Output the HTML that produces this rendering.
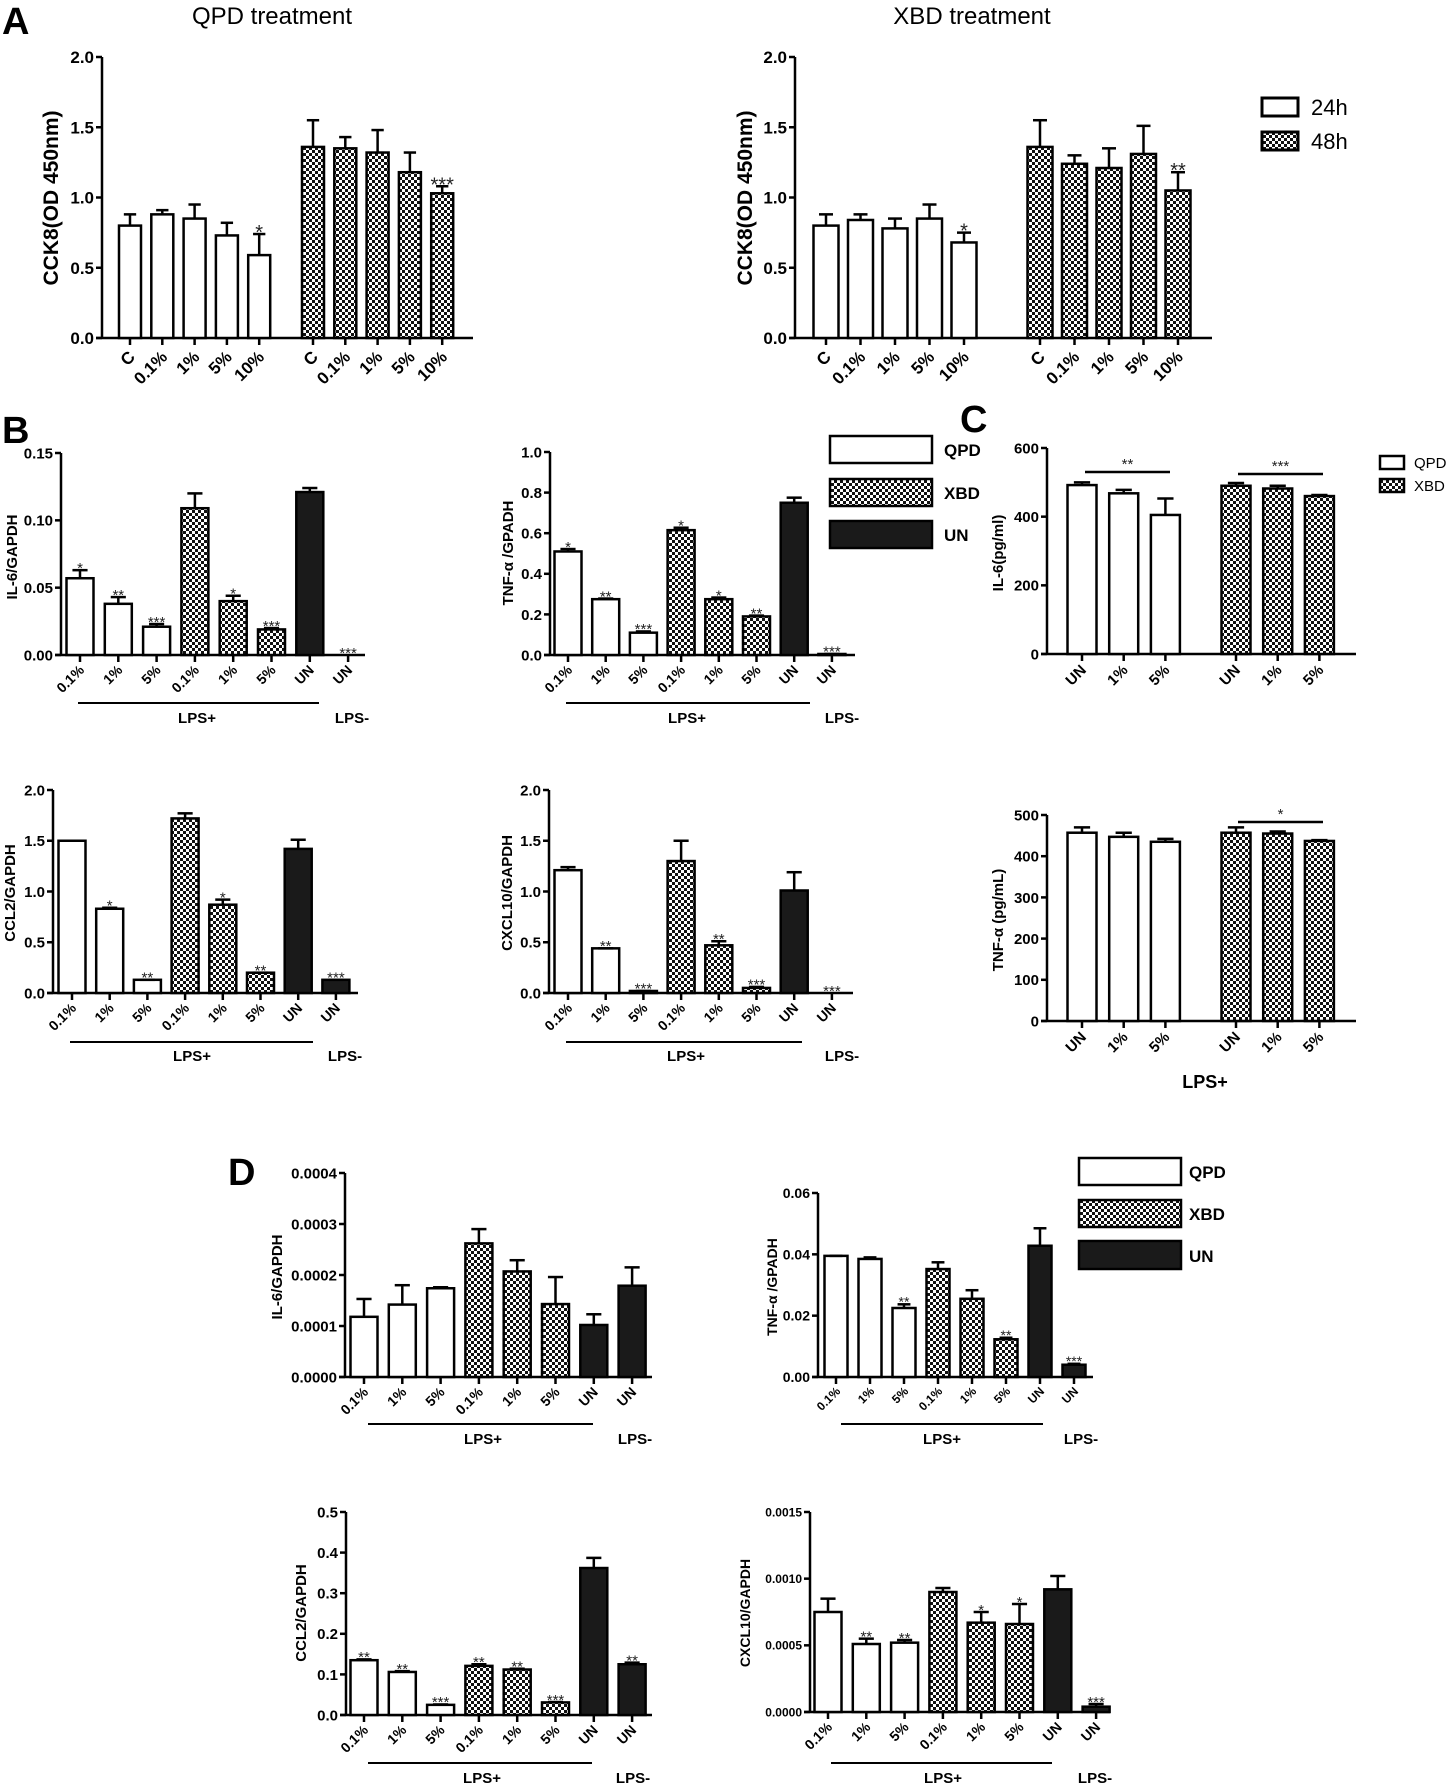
<!DOCTYPE html>
<html><head><meta charset="utf-8"><title>Figure</title>
<style>
html,body{margin:0;padding:0;background:#fff;}
svg{display:block;font-family:"Liberation Sans",sans-serif;}
</style></head>
<body>
<svg id="fig" width="1450" height="1787" viewBox="0 0 1450 1787" xmlns="http://www.w3.org/2000/svg">
<defs>
<pattern id="chk" width="6" height="6" patternUnits="userSpaceOnUse">
<rect width="6" height="6" fill="#fff"/><rect width="3" height="3" fill="#111"/><rect x="3" y="3" width="3" height="3" fill="#111"/>
</pattern>
</defs>
<text x="2" y="34" font-size="38" font-weight="bold">A</text>
<text x="2" y="443" font-size="38" font-weight="bold">B</text>
<text x="960" y="432" font-size="38" font-weight="bold">C</text>
<text x="228" y="1185" font-size="38" font-weight="bold">D</text>
<text x="272" y="24" font-size="24" text-anchor="middle">QPD treatment</text>
<text x="972" y="24" font-size="24" text-anchor="middle">XBD treatment</text>

<g>
<rect x="1262" y="98" width="36" height="18" fill="#fff" stroke="#000" stroke-width="3"/>
<text x="1311" y="115" font-size="22">24h</text>
<rect x="1262" y="132" width="36" height="18" fill="url(#chk)" stroke="#000" stroke-width="3"/>
<text x="1311" y="149" font-size="22">48h</text>
</g>
<g>
<rect x="830" y="436" width="102" height="27" fill="#fff" stroke="#000" stroke-width="2.5"/>
<text x="944" y="456" font-size="17" font-weight="bold">QPD</text>
<rect x="830" y="479" width="102" height="27" fill="url(#chk)" stroke="#000" stroke-width="2.5"/>
<text x="944" y="499" font-size="17" font-weight="bold">XBD</text>
<rect x="830" y="521" width="102" height="27" fill="#1a1a1a" stroke="#000" stroke-width="2.5"/>
<text x="944" y="541" font-size="17" font-weight="bold">UN</text>
</g>
<g>
<rect x="1380" y="456" width="24" height="13" fill="#fff" stroke="#000" stroke-width="2.5"/>
<text x="1414" y="468" font-size="15">QPD</text>
<rect x="1380" y="479" width="24" height="13" fill="url(#chk)" stroke="#000" stroke-width="2.5"/>
<text x="1414" y="491" font-size="15">XBD</text>
</g>
<g>
<rect x="1079" y="1158" width="102" height="27" fill="#fff" stroke="#000" stroke-width="2.5"/>
<text x="1189" y="1178" font-size="17" font-weight="bold">QPD</text>
<rect x="1079" y="1200" width="102" height="27" fill="url(#chk)" stroke="#000" stroke-width="2.5"/>
<text x="1189" y="1220" font-size="17" font-weight="bold">XBD</text>
<rect x="1079" y="1241" width="102" height="28" fill="#1a1a1a" stroke="#000" stroke-width="2.5"/>
<text x="1189" y="1262" font-size="17" font-weight="bold">UN</text>
</g>
</svg>
<script>
// ---------- data ----------
const catsA = ["C","0.1%","1%","5%","10%","C","0.1%","1%","5%","10%"];
const fillsA = ["w","w","w","w","w","c","c","c","c","c"];
const qpdCckVals = [0.80,0.88,0.85,0.73,0.59,1.36,1.35,1.32,1.18,1.03];
const qpdCckErrs = [0.08,0.03,0.10,0.09,0.15,0.19,0.08,0.16,0.14,0.05];
const qpdCckStars = ["","","","","*","","","","","***"];
const xbdCckVals = [0.80,0.84,0.78,0.85,0.68,1.36,1.24,1.21,1.31,1.05];
const xbdCckErrs = [0.08,0.04,0.07,0.10,0.07,0.19,0.06,0.14,0.20,0.13];
const xbdCckStars = ["","","","","*","","","","","**"];
const ticksA = [0,0.5,1.0,1.5,2.0];
const tickLabelsA = ["0.0","0.5","1.0","1.5","2.0"];

const catsBD = ["0.1%","1%","5%","0.1%","1%","5%","UN","UN"];
const fillsBD = ["w","w","w","c","c","c","k","k"];
const bIl6Vals = [0.057,0.038,0.021,0.109,0.040,0.019,0.121,0];
const bIl6Errs = [0.006,0.005,0.002,0.011,0.004,0.001,0.003,0];
const bIl6Stars = ["*","**","***","","*","***","","***"];
const bIl6Ticks = [0,0.05,0.10,0.15];
const bIl6TickLabels = ["0.00","0.05","0.10","0.15"];
const bTnfVals = [0.51,0.275,0.11,0.615,0.275,0.19,0.75,0.005];
const bTnfErrs = [0.012,0.003,0.006,0.012,0.008,0.004,0.025,0];
const bTnfStars = ["*","**","***","*","*","**","","***"];
const bTnfTicks = [0,0.2,0.4,0.6,0.8,1.0];
const bTnfTickLabels = ["0.0","0.2","0.4","0.6","0.8","1.0"];
const bCcl2Vals = [1.50,0.83,0.13,1.72,0.87,0.20,1.42,0.13];
const bCcl2Errs = [0,0.01,0,0.05,0.05,0,0.09,0];
const bCcl2Stars = ["","*","**","","*","**","","***"];
const bCxcl10Vals = [1.21,0.44,0.02,1.30,0.47,0.05,1.01,0];
const bCxcl10Errs = [0.03,0,0,0.20,0.04,0.01,0.18,0];
const bCxcl10Stars = ["","**","***","","**","***","","***"];
const ticks2 = [0,0.5,1.0,1.5,2.0];
const tickLabels2 = ["0.0","0.5","1.0","1.5","2.0"];

const catsC = ["UN","1%","5%","UN","1%","5%"];
const fillsC = ["w","w","w","c","c","c"];
const cIl6Vals = [492,468,405,490,482,460];
const cIl6Errs = [8,10,48,8,8,3];
const cIl6Ticks = [0,200,400,600];
const cTnfVals = [457,447,435,457,455,437];
const cTnfErrs = [13,10,7,13,5,2];
const cTnfTicks = [0,100,200,300,400,500];

const dIl6Vals = [0.000118,0.000142,0.000174,0.000262,0.000207,0.000143,0.000102,0.000179];
const dIl6Errs = [0.000035,0.000038,0.000002,0.000028,0.000022,0.000053,0.000021,0.000036];
const dIl6Stars = ["","","","","","","",""];
const dIl6Ticks = [0,0.0001,0.0002,0.0003,0.0004];
const dIl6TickLabels = ["0.0000","0.0001","0.0002","0.0003","0.0004"];
const dTnfVals = [0.0395,0.0385,0.0225,0.0352,0.0255,0.0123,0.0428,0.0040];
const dTnfErrs = [0,0.0005,0.0012,0.0022,0.0028,0.0005,0.0057,0.0003];
const dTnfStars = ["","","**","","","**","","***"];
const dTnfTicks = [0,0.02,0.04,0.06];
const dTnfTickLabels = ["0.00","0.02","0.04","0.06"];
const dCcl2Vals = [0.135,0.106,0.025,0.121,0.112,0.031,0.362,0.125];
const dCcl2Errs = [0.002,0.002,0.001,0.004,0.002,0.001,0.025,0.004];
const dCcl2Stars = ["**","**","***","**","**","***","","**"];
const dCcl2Ticks = [0,0.1,0.2,0.3,0.4,0.5];
const dCcl2TickLabels = ["0.0","0.1","0.2","0.3","0.4","0.5"];
const dCxcl10Vals = [0.00075,0.00051,0.00052,0.00090,0.00067,0.00066,0.00092,0.00004];
const dCxcl10Errs = [0.00010,0.00004,0.00002,0.00003,0.00008,0.00015,0.00010,0.00002];
const dCxcl10Stars = ["","**","**","","*","*","","***"];
const dCxcl10Ticks = [0,0.0005,0.0010,0.0015];
const dCxcl10TickLabels = ["0.0000","0.0005","0.0010","0.0015"];

// ---------- drawing ----------
const NS = "http://www.w3.org/2000/svg";
const svg = document.getElementById("fig");
function mk(tag, attrs, parent){
  const e = document.createElementNS(NS, tag);
  for (const k in attrs) e.setAttribute(k, attrs[k]);
  (parent || svg).appendChild(e);
  return e;
}
const FILL = {w:"#fff", c:"url(#chk)", k:"#1a1a1a"};

function drawChart(c){
  const g = mk("g", {});
  
  
  const ys = v => c.y0 - v / c.max * (c.y0 - c.yTop);
  const ya = mk("line", {x1:c.ax, y1:c.yTop, x2:c.ax, y2:c.y0, stroke:"#000", "stroke-width":2.5}, g);
  
  
  c.ticks.forEach((t, i) => {
    const y = ys(t);
    const tk = mk("line", {x1:c.ax-6, y1:y, x2:c.ax, y2:y, stroke:"#000", "stroke-width":2.5}, g);
    
    
    const tl = mk("text", {x:c.ax-8, y:y + c.tickFont*0.36, "font-size":c.tickFont, "font-weight":"bold", "text-anchor":"end"}, g);
    
    
    tl.textContent = c.tickLabels[i];
  });
  const xa = mk("line", {x1:c.ax-6, y1:c.y0, x2:c.xEnd, y2:c.y0, stroke:"#000", "stroke-width":2.5}, g);
  
  
  const yt = mk("text", {x:0, y:0, "font-size":c.titleFont, "font-weight":"bold", "text-anchor":"middle",
    transform:`translate(${c.titleX},${c.titleY}) rotate(-90)`}, g);
  
  
  yt.textContent = c.title;
  c.vals.forEach((v, i) => {
    const cx = c.centers[i];
    const top = ys(v);
    if (v > 0) {
      const r = mk("rect", {x:cx - c.bw/2, y:top, width:c.bw, height:c.y0 - top, fill:FILL[c.fills[i]], stroke:"#000", "stroke-width":2.5}, g);
      
      
      const et = ys(v + c.errs[i]);
      const el = mk("line", {x1:cx, y1:top, x2:cx, y2:et, stroke:"#000", "stroke-width":2.5}, g);
      
      
      const cap = mk("line", {x1:cx - c.bw*0.28, y1:et, x2:cx + c.bw*0.28, y2:et, stroke:"#000", "stroke-width":2.5}, g);
      
      
    }
    const xt = mk("line", {x1:cx, y1:c.y0, x2:cx, y2:c.y0 + 7, stroke:"#000", "stroke-width":2.5}, g);
    
    
    const lx = cx + c.labDx, ly = c.y0 + c.labDy;
    const xl = mk("text", {x:0, y:0, "font-size":c.catFont, "font-weight":"bold", "text-anchor":"end",
      transform:`translate(${lx},${ly}) rotate(-45)`}, g);
    
    
    xl.textContent = c.cats[i];
    const s = c.stars ? c.stars[i] : "";
    if (s) {
      const sy = ys(v + (v > 0 ? c.errs[i] : 0)) - 4;
      const st = mk("text", {x:cx, y:sy + c.starFont*0.45, "font-size":c.starFont, fill:"#222", "text-anchor":"middle"}, g);
      
      
      st.textContent = s;
    }
  });
  return g;
}
function seq(first, step, n){ const a=[]; for(let i=0;i<n;i++) a.push(first+step*i); return a; }
function lps(x1, x2, y, plusX, minusX, ty){
  const l = mk("line", {x1:x1, y1:y, x2:x2, y2:y, stroke:"#000", "stroke-width":2});
  
  
  const t1 = mk("text", {x:plusX, y:ty, "font-size":15, "font-weight":"bold", "text-anchor":"middle"});
  
  
  t1.textContent = "LPS+";
  if (minusX) {
    const t2 = mk("text", {x:minusX, y:ty, "font-size":15, "font-weight":"bold", "text-anchor":"middle"});
    
    
    t2.textContent = "LPS-";
  }
}
function sig(x1, x2, y, s){
  const l = mk("line", {x1:x1, y1:y, x2:x2, y2:y, stroke:"#000", "stroke-width":2.5});
  
  
  const t = mk("text", {x:(x1+x2)/2, y:y-3, "font-size":15, fill:"#222", "text-anchor":"middle"});
  
  
  t.textContent = s;
}

// Panel A
drawChart({name:"qpd-cck8-chart", ax:102, yTop:57, y0:338, xEnd:473, max:2.0, ticks:ticksA, tickLabels:tickLabelsA,
  centers: seq(130,32.3,5).concat(seq(313,32.3,5)), bw:22, fills:fillsA, cats:catsA,
  vals:qpdCckVals, errs:qpdCckErrs, stars:qpdCckStars, tickFont:17, catFont:17, starFont:20,
  title:"CCK8(OD 450nm)", titleX:58, titleY:198, titleFont:21, labDx:6, labDy:20});
drawChart({name:"xbd-cck8-chart", ax:795, yTop:57, y0:338, xEnd:1212, max:2.0, ticks:ticksA, tickLabels:tickLabelsA,
  centers: seq(826,34.5,5).concat(seq(1040,34.5,5)), bw:25, fills:fillsA, cats:catsA,
  vals:xbdCckVals, errs:xbdCckErrs, stars:xbdCckStars, tickFont:17, catFont:17, starFont:20,
  title:"CCK8(OD 450nm)", titleX:752, titleY:198, titleFont:21, labDx:6, labDy:20});

// Panel B
drawChart({name:"b-il6-chart", ax:61, yTop:453, y0:655, xEnd:365, max:0.15, ticks:bIl6Ticks, tickLabels:bIl6TickLabels,
  centers: seq(80,38.3,8), bw:27, fills:fillsBD, cats:catsBD, vals:bIl6Vals, errs:bIl6Errs, stars:bIl6Stars,
  tickFont:15, catFont:14, starFont:15, title:"IL-6/GAPDH", titleX:17, titleY:557, titleFont:15, labDx:5, labDy:16});
drawChart({name:"b-tnf-chart", ax:550, yTop:452, y0:655, xEnd:855, max:1.0, ticks:bTnfTicks, tickLabels:bTnfTickLabels,
  centers: seq(568,37.7,8), bw:27, fills:fillsBD, cats:catsBD, vals:bTnfVals, errs:bTnfErrs, stars:bTnfStars,
  tickFont:15, catFont:14, starFont:15, title:"TNF-α /GPADH", titleX:513, titleY:553, titleFont:15, labDx:5, labDy:16});
lps(78, 319, 703, 197, 352, 723);
lps(566, 810, 703, 687, 842, 723);
drawChart({name:"b-ccl2-chart", ax:53, yTop:790, y0:993, xEnd:358, max:2.0, ticks:ticks2, tickLabels:tickLabels2,
  centers: seq(72,37.7,8), bw:27, fills:fillsBD, cats:catsBD, vals:bCcl2Vals, errs:bCcl2Errs, stars:bCcl2Stars,
  tickFont:15, catFont:14, starFont:15, title:"CCL2/GAPDH", titleX:15, titleY:893, titleFont:15, labDx:5, labDy:16});
drawChart({name:"b-cxcl10-chart", ax:549, yTop:790, y0:993, xEnd:853, max:2.0, ticks:ticks2, tickLabels:tickLabels2,
  centers: seq(568,37.7,8), bw:27, fills:fillsBD, cats:catsBD, vals:bCxcl10Vals, errs:bCxcl10Errs, stars:bCxcl10Stars,
  tickFont:15, catFont:14, starFont:15, title:"CXCL10/GAPDH", titleX:512, titleY:893, titleFont:15, labDx:5, labDy:16});
lps(70, 313, 1042, 192, 345, 1061);
lps(566, 802, 1042, 686, 842, 1061);

// Panel C
drawChart({name:"c-il6-elisa-chart", ax:1047, yTop:448, y0:654, xEnd:1356, max:600, ticks:cIl6Ticks, tickLabels:cIl6Ticks.map(String),
  centers: seq(1082,41.7,3).concat(seq(1236,41.7,3)), bw:29, fills:fillsC, cats:catsC, vals:cIl6Vals, errs:cIl6Errs, stars:null,
  tickFont:15, catFont:15, starFont:15, title:"IL-6(pg/ml)", titleX:1003, titleY:553, titleFont:15, labDx:5, labDy:17});
sig(1085, 1170, 472, "**");
sig(1238, 1323, 474, "***");
drawChart({name:"c-tnf-elisa-chart", ax:1047, yTop:815, y0:1021, xEnd:1356, max:500, ticks:cTnfTicks, tickLabels:cTnfTicks.map(String),
  centers: seq(1082,41.7,3).concat(seq(1236,41.7,3)), bw:29, fills:fillsC, cats:catsC, vals:cTnfVals, errs:cTnfErrs, stars:null,
  tickFont:15, catFont:15, starFont:15, title:"TNF-α (pg/mL)", titleX:1003, titleY:920, titleFont:15, labDx:5, labDy:17});
sig(1238, 1323, 822, "*");
(function(){
  const t = mk("text", {x:1205, y:1088, "font-size":18, "font-weight":"bold", "text-anchor":"middle"});
  
  
  t.textContent = "LPS+";
})();

// Panel D
drawChart({name:"d-il6-chart", ax:345, yTop:1173, y0:1377, xEnd:652, max:0.0004, ticks:dIl6Ticks, tickLabels:dIl6TickLabels,
  centers: seq(364,38.3,8), bw:27, fills:fillsBD, cats:catsBD, vals:dIl6Vals, errs:dIl6Errs, stars:dIl6Stars,
  tickFont:15, catFont:14, starFont:15, title:"IL-6/GAPDH", titleX:282, titleY:1277, titleFont:15, labDx:5, labDy:16});
lps(368, 593, 1424, 483, 635, 1444);
drawChart({name:"d-tnf-chart", ax:818, yTop:1193, y0:1377, xEnd:1093, max:0.06, ticks:dTnfTicks, tickLabels:dTnfTickLabels,
  centers: seq(836,34,8), bw:23, fills:fillsBD, cats:catsBD, vals:dTnfVals, errs:dTnfErrs, stars:dTnfStars,
  tickFont:14, catFont:12, starFont:14, title:"TNF-α /GPADH", titleX:777, titleY:1287, titleFont:14, labDx:5, labDy:15});
lps(841, 1043, 1424, 942, 1081, 1444);
drawChart({name:"d-ccl2-chart", ax:346, yTop:1512, y0:1715, xEnd:652, max:0.5, ticks:dCcl2Ticks, tickLabels:dCcl2TickLabels,
  centers: seq(364,38.3,8), bw:27, fills:fillsBD, cats:catsBD, vals:dCcl2Vals, errs:dCcl2Errs, stars:dCcl2Stars,
  tickFont:15, catFont:14, starFont:15, title:"CCL2/GAPDH", titleX:306, titleY:1613, titleFont:15, labDx:5, labDy:16});
lps(368, 592, 1763, 482, 633, 1783);
drawChart({name:"d-cxcl10-chart", ax:810, yTop:1512, y0:1712, xEnd:1110, max:0.0015, ticks:dCxcl10Ticks, tickLabels:dCxcl10TickLabels,
  centers: seq(828,38.3,8), bw:27, fills:fillsBD, cats:catsBD, vals:dCxcl10Vals, errs:dCxcl10Errs, stars:dCxcl10Stars,
  tickFont:12, catFont:14, starFont:15, title:"CXCL10/GAPDH", titleX:750, titleY:1613, titleFont:14, labDx:5, labDy:16});
lps(831, 1052, 1763, 943, 1095, 1783);
</script>
</body></html>
